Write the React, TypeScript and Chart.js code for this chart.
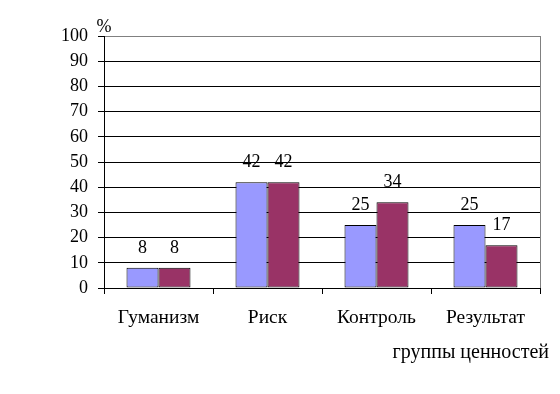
import React, { useEffect, useRef } from "react";
import { Chart, registerables } from "chart.js";

Chart.register(...registerables);

const categories = ["Гуманизм", "Риск", "Контроль", "Результат"];
const seriesA = [8, 42, 25, 25];
const seriesB = [8, 42, 34, 17];
const yTicks = [0, 10, 20, 30, 40, 50, 60, 70, 80, 90, 100];
const yUnit = "%";
const xTitle = "группы ценностей";

const FONT = "'Liberation Serif', 'DejaVu Serif', serif";

const extrasPlugin = {
  id: "extras",
  afterDatasetsDraw(chart: any) {
    const ctx = chart.ctx;
    const area = chart.chartArea;
    ctx.save();
    ctx.strokeStyle = "#808080";
    ctx.lineWidth = 1;
    ctx.beginPath();
    ctx.moveTo(Math.round(area.right) + 0.5, area.top);
    ctx.lineTo(Math.round(area.right) + 0.5, area.bottom);
    ctx.stroke();
    ctx.fillStyle = "#000";
    ctx.font = "18px " + FONT;
    ctx.textAlign = "center";
    ctx.textBaseline = "middle";
    chart.data.datasets.forEach((ds: any, i: number) => {
      const meta = chart.getDatasetMeta(i);
      meta.data.forEach((bar: any, j: number) => {
        ctx.fillText(String(ds.data[j]), bar.x, bar.y - 20);
      });
    });
    ctx.fillText(yUnit, area.left, area.top - 9);
    ctx.font = "20px " + FONT;
    ctx.textAlign = "right";
    ctx.fillText(xTitle, 549, 353);
    ctx.restore();
  },
};

export default function App() {
  const ref = useRef<HTMLCanvasElement | null>(null);
  useEffect(() => {
    let chart: any = null;
    let cancelled = false;
    const make = () => {
      if (cancelled || !ref.current) return;
      chart = new Chart(ref.current, {
        type: "bar",
        data: {
          labels: categories,
          datasets: [
            {
              data: seriesA,
              backgroundColor: "#9999FF",
              borderColor: "#000000",
              borderWidth: 1,
              borderSkipped: false,
              categoryPercentage: 0.587,
              barPercentage: 1,
            },
            {
              data: seriesB,
              backgroundColor: "#993366",
              borderColor: "#000000",
              borderWidth: 1,
              borderSkipped: false,
              categoryPercentage: 0.587,
              barPercentage: 1,
            },
          ],
        },
        options: {
          responsive: false,
          animation: false,
          layout: { padding: { top: 36, right: 20, left: 0, bottom: 0 } },
          plugins: { legend: { display: false }, tooltip: { enabled: false } },
          scales: {
            x: {
              grid: {
                offset: true,
                drawOnChartArea: false,
                drawTicks: true,
                tickLength: 6,
                color: "#000",
              },
              border: { color: "#000", width: 1 },
              ticks: { color: "#000", font: { family: FONT, size: 19.5 }, padding: 12, maxRotation: 0 },
              afterFit(scale: any) {
                scale.height = 106;
              },
            },
            y: {
              min: 0,
              max: 100,
              afterBuildTicks(scale: any) {
                scale.ticks = yTicks.map((v) => ({ value: v }));
              },
              grid: {
                color: (c: any) => (c.tick && c.tick.value === 100 ? "#808080" : "#000"),
                tickColor: "#000",
                tickLength: 6,
                drawTicks: true,
              },
              border: { color: "#000", width: 1 },
              ticks: { color: "#000", font: { family: FONT, size: 18 }, padding: 10 },
              afterFit(scale: any) {
                scale.width = 104;
              },
            },
          },
        },
        plugins: [extrasPlugin],
      } as any);
    };
    const fonts: any = (document as any).fonts;
    if (fonts && fonts.load) {
      fonts.load("18px 'Liberation Serif'", "Гуманизм 0123").then(make, make);
    } else {
      make();
    }
    return () => {
      cancelled = true;
      if (chart) chart.destroy();
    };
  }, []);
  return (
    <div style={{ position: "fixed", left: 0, top: 0, width: 560, height: 394, background: "#fff" }}>
      <canvas ref={ref} width={560} height={394} style={{ width: 560, height: 394 }} />
    </div>
  );
}
